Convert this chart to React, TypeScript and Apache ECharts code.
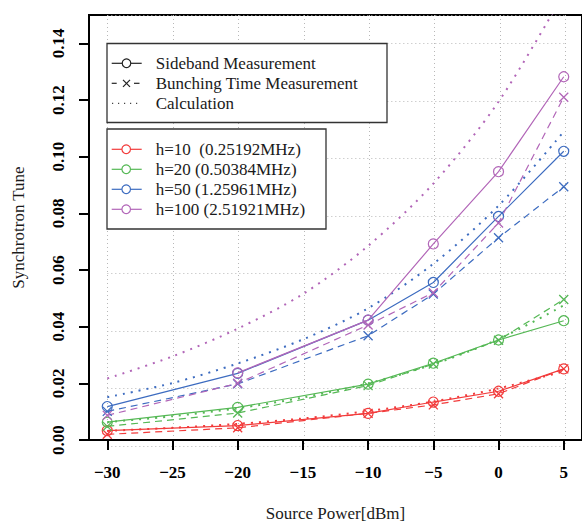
import React, { useEffect, useRef } from 'react';
import * as echarts from 'echarts';

const FONT = "'Liberation Serif', 'Times New Roman', serif";

const harmonicLabels = ['h=10  (0.25192MHz)', 'h=20 (0.50384MHz)', 'h=50 (1.25961MHz)', 'h=100 (2.51921MHz)'];
const methodLabels = ['Sideband Measurement', 'Bunching Time Measurement', 'Calculation'];
const colors = ['#F23B3B', '#55B855', '#3D6CC0', '#B266B8'];

const powers = [-30, -20, -10, -5, 0, 5];
const calcPowers = [-30, -25, -20, -15, -10, -5, 0, 5];

const sidebandH10 = [0.0033, 0.0051, 0.0094, 0.0134, 0.0172, 0.0251];
const sidebandH20 = [0.0063, 0.0115, 0.0197, 0.0271, 0.0353, 0.0421];
const sidebandH50 = [0.0118, 0.0235, 0.0423, 0.0556, 0.0789, 0.1019];
const sidebandH100 = [null, 0.0237, 0.0423, 0.0692, 0.0947, 0.1282];

const bunchingH10 = [0.0020, 0.0043, 0.0094, 0.0124, 0.0163, 0.0251];
const bunchingH20 = [0.0048, 0.0095, 0.0192, 0.0268, 0.0352, 0.0496];
const bunchingH50 = [0.0101, 0.0198, 0.0368, 0.0515, 0.0714, 0.0894];
const bunchingH100 = [0.0087, 0.0200, 0.0406, 0.0520, 0.0766, 0.1210];

const calcH10 = [0.0032, 0.0043, 0.0057, 0.0076, 0.0102, 0.0136, 0.0182, 0.0243];
const calcH20 = [0.0063, 0.0084, 0.0112, 0.0150, 0.0200, 0.0267, 0.0356, 0.0475];
const calcH50 = [0.0151, 0.0201, 0.0270, 0.0355, 0.0465, 0.0622, 0.0827, 0.1088];
const calcH100 = [0.0217, 0.0295, 0.0393, 0.0515, 0.0685, 0.0905, 0.1194, 0.1575];

const xTicks = [-30, -25, -20, -15, -10, -5, 0, 5];
const yTicks = [0, 0.02, 0.04, 0.06, 0.08, 0.1, 0.12, 0.14];

const sideband = [sidebandH10, sidebandH20, sidebandH50, sidebandH100];
const bunching = [bunchingH10, bunchingH20, bunchingH50, bunchingH100];
const calc = [calcH10, calcH20, calcH50, calcH100];

const CROSS = 'path://M0,0L10,10M10,0L0,10';

const PLOT_LEFT = 89;
const PLOT_W = 495;
const X_MIN = -31.4;
const X_MAX = 6.4;
const pxPerUnit = PLOT_W / (X_MAX - X_MIN);

function pairs(xs: number[], ys: (number | null)[]) {
  const out: [number, number][] = [];
  xs.forEach((x, i) => {
    const y = ys[i];
    if (y !== null && y !== undefined) out.push([x, y]);
  });
  return out;
}

function buildSeries() {
  const series: any[] = [];
  for (let i = 0; i < 4; i++) {
    const c = colors[i];
    series.push({
      type: 'line',
      xAxisIndex: 0,
      yAxisIndex: 0,
      data: pairs(calcPowers, calc[i]),
      smooth: 0.3,
      showSymbol: false,
      symbol: 'none',
      lineStyle: { color: c, width: 2, type: [2, 6] },
      silent: true,
    });
    series.push({
      type: 'line',
      xAxisIndex: 0,
      yAxisIndex: 0,
      data: pairs(powers, bunching[i]),
      symbol: CROSS,
      symbolSize: 9,
      itemStyle: { color: 'transparent', borderColor: c, borderWidth: 1.3 },
      lineStyle: { color: c, width: 1.2, type: [7, 5] },
      silent: true,
    });
    series.push({
      type: 'line',
      xAxisIndex: 0,
      yAxisIndex: 0,
      data: pairs(powers, sideband[i]),
      symbol: 'circle',
      symbolSize: 10,
      itemStyle: { color: 'transparent', borderColor: c, borderWidth: 1.2 },
      lineStyle: { color: c, width: 1.2 },
      silent: true,
    });
  }
  return series;
}

function buildLegend() {
  const els: any[] = [];
  const textStyle = (text: string, x: number, y: number) => ({
    type: 'text',
    x,
    y,
    style: { text, fill: '#1a1a1a', font: `17px ${FONT}`, verticalAlign: 'middle', align: 'left' },
    z: 101,
  });
  els.push({
    type: 'rect',
    shape: { x: 107, y: 43.5, width: 280, height: 79 },
    style: { fill: '#fff', stroke: '#333', lineWidth: 1.3 },
    z: 100,
  });
  els.push({
    type: 'rect',
    shape: { x: 107, y: 129, width: 219, height: 100 },
    style: { fill: '#fff', stroke: '#333', lineWidth: 1.3 },
    z: 100,
  });
  const my = [63.3, 83.3, 103.3];
  els.push({ type: 'line', shape: { x1: 111.7, y1: my[0], x2: 141.7, y2: my[0] }, style: { stroke: '#222', lineWidth: 1.2 }, z: 101 });
  els.push({ type: 'circle', shape: { cx: 126.5, cy: my[0], r: 4.3 }, style: { fill: '#fff', stroke: '#222', lineWidth: 1.2 }, z: 102 });
  els.push({ type: 'line', shape: { x1: 111.7, y1: my[1], x2: 116.7, y2: my[1] }, style: { stroke: '#222', lineWidth: 1.2 }, z: 101 });
  els.push({ type: 'line', shape: { x1: 134, y1: my[1], x2: 139.5, y2: my[1] }, style: { stroke: '#222', lineWidth: 1.2 }, z: 101 });
  els.push({ type: 'line', shape: { x1: 123, y1: my[1] - 3.5, x2: 130, y2: my[1] + 3.5 }, style: { stroke: '#222', lineWidth: 1.2 }, z: 101 });
  els.push({ type: 'line', shape: { x1: 123, y1: my[1] + 3.5, x2: 130, y2: my[1] - 3.5 }, style: { stroke: '#222', lineWidth: 1.2 }, z: 101 });
  els.push({ type: 'line', shape: { x1: 112, y1: my[2], x2: 142, y2: my[2] }, style: { stroke: '#444', lineWidth: 1.2, lineDash: [1.2, 4.8] }, z: 101 });
  methodLabels.forEach((t, i) => els.push(textStyle(t, 155.7, my[i])));

  const hy = [149.3, 169.3, 189.3, 209.3];
  harmonicLabels.forEach((t, i) => {
    els.push({ type: 'line', shape: { x1: 111.7, y1: hy[i], x2: 141.7, y2: hy[i] }, style: { stroke: colors[i], lineWidth: 1.2 }, z: 101 });
    els.push({ type: 'circle', shape: { cx: 126.2, cy: hy[i], r: 4.3 }, style: { fill: '#fff', stroke: colors[i], lineWidth: 1.2 }, z: 102 });
    els.push(textStyle(t, 155.7, hy[i]));
  });
  return els;
}

const gridLineStyle = { color: '#b8b8b8', type: [1, 3], width: 1 };

const option: any = {
  animation: false,
  backgroundColor: '#fff',
  grid: [
    {
      left: PLOT_LEFT,
      top: 15,
      width: PLOT_W,
      height: 431,
      show: true,
      borderColor: '#000',
      borderWidth: 2,
      containLabel: false,
    },
    {
      left: PLOT_LEFT + (xTicks[0] - X_MIN) * pxPerUnit,
      top: 15,
      width: (xTicks[xTicks.length - 1] - xTicks[0]) * pxPerUnit,
      height: 431,
      show: false,
      containLabel: false,
    },
  ],
  xAxis: [
    {
      type: 'value',
      gridIndex: 0,
      min: X_MIN,
      max: X_MAX,
      name: 'Source Power[dBm]',
      nameLocation: 'middle',
      nameGap: 65,
      nameTextStyle: { fontFamily: FONT, fontSize: 17, color: '#1a1a1a' },
      axisLine: { show: true, onZero: false, lineStyle: { color: '#000', width: 2 } },
      axisTick: { show: true, length: 10, lineStyle: { color: '#000', width: 2 }, customValues: xTicks },
      axisLabel: {
        customValues: xTicks,
        margin: 24,
        fontFamily: FONT,
        fontSize: 17,
        fontWeight: 'bold',
        color: '#000',
        formatter: (v: number) => (v < 0 ? '\u2212' + Math.abs(v) : String(v)),
      },
      splitLine: { show: false },
      z: 3,
    },
    {
      type: 'value',
      gridIndex: 1,
      min: xTicks[0],
      max: xTicks[xTicks.length - 1],
      interval: 5,
      axisLine: { show: false },
      axisTick: { show: false },
      axisLabel: { show: false },
      splitLine: { show: true, lineStyle: gridLineStyle },
      z: 1,
    },
  ],
  yAxis: [
    {
      type: 'value',
      gridIndex: 0,
      min: 0,
      max: 0.15,
      name: 'Synchrotron Tune',
      nameLocation: 'middle',
      nameGap: 62,
      nameTextStyle: { fontFamily: FONT, fontSize: 17, color: '#1a1a1a' },
      axisLine: { show: true, onZero: false, lineStyle: { color: '#000', width: 2 } },
      axisTick: { show: true, length: 10, lineStyle: { color: '#000', width: 2 }, customValues: yTicks },
      axisLabel: {
        customValues: yTicks,
        rotate: 90,
        margin: 22,
        fontFamily: FONT,
        fontSize: 17,
        fontWeight: 'bold',
        color: '#000',
        formatter: (v: number) => v.toFixed(2),
      },
      splitLine: { show: false },
      z: 3,
    },
    {
      type: 'value',
      gridIndex: 1,
      min: 0,
      max: 0.15,
      interval: 0.02,
      axisLine: { show: false },
      axisTick: { show: false },
      axisLabel: { show: false },
      splitLine: { show: true, lineStyle: gridLineStyle },
      z: 1,
    },
  ],
  series: buildSeries(),
  graphic: buildLegend(),
};

export default function App() {
  const ref = useRef<HTMLDivElement>(null);
  useEffect(() => {
    const chart = echarts.init(ref.current!, null, { renderer: 'svg' });
    chart.setOption(option);
    return () => chart.dispose();
  }, []);
  return (
    <div
      ref={ref}
      style={{ position: 'fixed', left: 0, top: 0, width: 582, height: 527, background: '#fff' }}
    />
  );
}
